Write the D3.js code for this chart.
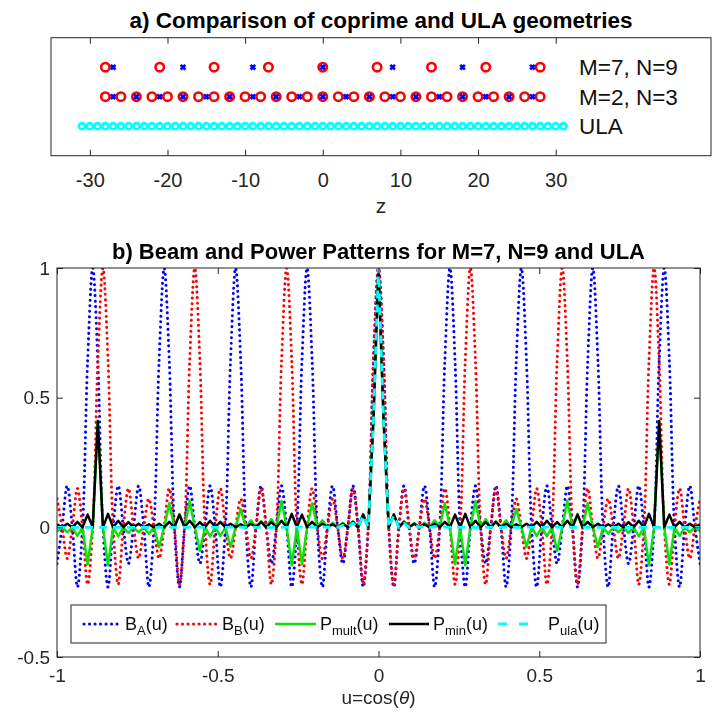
<!DOCTYPE html>
<html>
<head>
<meta charset="utf-8">
<script src="https://cdn.jsdelivr.net/npm/d3@7"></script>
<style>
  body { margin: 0; background: #fff; }
  text { font-family: "Liberation Sans", Arial, Helvetica, sans-serif; }
</style>
</head>
<body>
<svg id="fig" width="715" height="717"></svg>
<script>
// ---------- a) element positions (half-wavelength units) ----------
const rowLabels = ["M=7, N=9", "M=2, N=3", "ULA"];
const rowLevels = [3, 2, 1];
const coprime79Circles = [-28, -21, -14, -7, 0, 7, 14, 21, 28];
const coprime79Crosses = [-27, -18, -9, 0, 9, 18, 27];
const coprime23Circles = [-28, -26, -24, -22, -20, -18, -16, -14, -12, -10, -8, -6, -4, -2, 0,
  2, 4, 6, 8, 10, 12, 14, 16, 18, 20, 22, 24, 26, 28];
const coprime23Crosses = [-27, -24, -21, -18, -15, -12, -9, -6, -3, 0, 3, 6, 9, 12, 15, 18, 21, 24, 27];
const ulaElements = [-31, -30, -29, -28, -27, -26, -25, -24, -23, -22, -21, -20, -19, -18, -17, -16,
  -15, -14, -13, -12, -11, -10, -9, -8, -7, -6, -5, -4, -3, -2, -1, 0, 1, 2, 3, 4, 5, 6, 7, 8, 9, 10,
  11, 12, 13, 14, 15, 16, 17, 18, 19, 20, 21, 22, 23, 24, 25, 26, 27, 28, 29, 30, 31];
const zTicks = [-30, -20, -10, 0, 10, 20, 30];

// ---------- b) patterns, one value every 1/63 in u, from u=-1 to u=1 ----------
const uStart = -1, uStep = 1 / 63;
const beamA = [
  -0.14, 0, 0.16, 0, -0.23, 0, 0.64,
  1, 0.64, 0, -0.23, 0, 0.16, 0, -0.14, 0, 0.16, 0, -0.23, 0, 0.64,
  1, 0.64, 0, -0.23, 0, 0.16, 0, -0.14, 0, 0.16, 0, -0.23, 0, 0.64,
  1, 0.64, 0, -0.23, 0, 0.16, 0, -0.14, 0, 0.16, 0, -0.23, 0, 0.64,
  1, 0.64, 0, -0.23, 0, 0.16, 0, -0.14, 0, 0.16, 0, -0.23, 0, 0.64,
  1, 0.64, 0, -0.23, 0, 0.16, 0, -0.14, 0, 0.16, 0, -0.23, 0, 0.64,
  1, 0.64, 0, -0.23, 0, 0.16, 0, -0.14, 0, 0.16, 0, -0.23, 0, 0.64,
  1, 0.64, 0, -0.23, 0, 0.16, 0, -0.14, 0, 0.16, 0, -0.23, 0, 0.64,
  1, 0.64, 0, -0.23, 0, 0.16, 0, -0.14, 0, 0.16, 0, -0.23, 0, 0.64,
  1, 0.64, 0, -0.23, 0, 0.16, 0, -0.14
];
const beamB = [
  0.11, 0, -0.12, 0, 0.15, 0, -0.22, 0, 0.64,
  1, 0.64, 0, -0.22, 0, 0.15, 0, -0.12, 0, 0.11, 0, -0.12, 0, 0.15, 0, -0.22, 0, 0.64,
  1, 0.64, 0, -0.22, 0, 0.15, 0, -0.12, 0, 0.11, 0, -0.12, 0, 0.15, 0, -0.22, 0, 0.64,
  1, 0.64, 0, -0.22, 0, 0.15, 0, -0.12, 0, 0.11, 0, -0.12, 0, 0.15, 0, -0.22, 0, 0.64,
  1, 0.64, 0, -0.22, 0, 0.15, 0, -0.12, 0, 0.11, 0, -0.12, 0, 0.15, 0, -0.22, 0, 0.64,
  1, 0.64, 0, -0.22, 0, 0.15, 0, -0.12, 0, 0.11, 0, -0.12, 0, 0.15, 0, -0.22, 0, 0.64,
  1, 0.64, 0, -0.22, 0, 0.15, 0, -0.12, 0, 0.11, 0, -0.12, 0, 0.15, 0, -0.22, 0, 0.64,
  1, 0.64, 0, -0.22, 0, 0.15, 0, -0.12, 0, 0.11
];
const powerMult = [
  -0.016, 0, -0.019, 0, -0.033, 0, -0.143, 0, 0.41, 0, -0.147, 0, -0.035, 0, -0.021, 0,
  -0.019, 0, -0.025, 0, -0.076, 0, 0.093, 0, 0.051, 0, 0.102, 0, -0.091, 0, -0.035, 0,
  -0.033, 0, -0.076, 0, 0.071, 0, 0.027, 0, 0.023, 0, 0.032, 0, 0.102, 0, -0.147, 0,
  -0.143, 0, 0.093, 0, 0.027, 0, 0.018, 0, 0.017, 0, 0.023, 0, 0.051, 0, 0.41,
  1,
  0.41, 0, 0.051, 0, 0.023, 0, 0.017, 0, 0.018, 0, 0.027, 0, 0.093, 0, -0.143, 0,
  -0.147, 0, 0.102, 0, 0.032, 0, 0.023, 0, 0.027, 0, 0.071, 0, -0.076, 0, -0.033, 0,
  -0.035, 0, -0.091, 0, 0.102, 0, 0.051, 0, 0.093, 0, -0.076, 0, -0.025, 0, -0.019, 0,
  -0.021, 0, -0.035, 0, -0.147, 0, 0.41, 0, -0.143, 0, -0.033, 0, -0.019, 0, -0.016
];
const powerMin = [
  0.012, 0, 0.014, 0, 0.021, 0, 0.049, 0, 0.41, 0, 0.052, 0, 0.025, 0, 0.020, 0,
  0.014, 0, 0.012, 0, 0.014, 0, 0.021, 0, 0.049, 0, 0.025, 0, 0.020, 0, 0.025, 0,
  0.021, 0, 0.014, 0, 0.012, 0, 0.014, 0, 0.021, 0, 0.020, 0, 0.025, 0, 0.052, 0,
  0.049, 0, 0.021, 0, 0.014, 0, 0.012, 0, 0.014, 0, 0.021, 0, 0.049, 0, 0.41,
  1,
  0.41, 0, 0.049, 0, 0.021, 0, 0.014, 0, 0.012, 0, 0.014, 0, 0.021, 0, 0.049, 0,
  0.052, 0, 0.025, 0, 0.020, 0, 0.021, 0, 0.014, 0, 0.012, 0, 0.014, 0, 0.021, 0,
  0.025, 0, 0.020, 0, 0.025, 0, 0.049, 0, 0.021, 0, 0.014, 0, 0.012, 0, 0.014, 0,
  0.020, 0, 0.025, 0, 0.052, 0, 0.41, 0, 0.049, 0, 0.021, 0, 0.014, 0, 0.012
];
const powerUla = [
  0, 0, 0, 0, 0, 0, 0, 0, 0, 0, 0, 0, 0, 0, 0, 0, 0, 0, 0, 0, 0, 0,
  0.001, 0, 0.001, 0, 0.001, 0, 0.001, 0, 0.001, 0, 0.001, 0, 0.001, 0, 0.001, 0,
  0.001, 0, 0.001, 0, 0.001, 0, 0.001, 0, 0.001,
  0, 0.002, 0, 0.002, 0, 0.003, 0, 0.005, 0, 0.008, 0, 0.016, 0, 0.045, 0, 0.405,
  1,
  0.405, 0, 0.045, 0, 0.016, 0, 0.008, 0, 0.005, 0, 0.003, 0, 0.002, 0, 0.002, 0,
  0.001, 0, 0.001, 0, 0.001, 0, 0.001, 0, 0.001, 0, 0.001, 0, 0.001, 0, 0.001, 0,
  0.001, 0, 0.001, 0, 0.001, 0, 0.001, 0, 0.001,
  0, 0, 0, 0, 0, 0, 0, 0, 0, 0, 0, 0, 0, 0, 0, 0, 0, 0, 0, 0, 0, 0
];
const uTicks = [-1, -0.5, 0, 0.5, 1];
const pTicks = [-0.5, 0, 0.5, 1];

const axisColor = "#262626";
const svg = d3.select("#fig");
const defs = svg.append("defs");
defs.append("filter").attr("id", "soft")
  .attr("x", "-5%").attr("y", "-5%").attr("width", "110%").attr("height", "110%")
  .append("feGaussianBlur").attr("stdDeviation", 0.55);

function styleAxis(g, fontSize) {
  g.select(".domain").remove();
  g.selectAll(".tick line").attr("stroke", axisColor).attr("stroke-width", 1);
  g.selectAll(".tick text").attr("fill", axisColor).attr("font-size", fontSize);
}

// =================== a) array geometries ===================
const gA = svg.append("g");
const xA = d3.scaleLinear().domain([-35, 50]).range([51, 711]);
const yA = d3.scaleLinear().domain([0, 4]).range([155.7, 37.7]);

gA.append("g").attr("transform", `translate(0,${yA(0)})`)
  .call(d3.axisBottom(xA).tickValues(zTicks).tickSize(-6).tickPadding(17).tickFormat(d => String(d)))
  .call(g => styleAxis(g, 20));
gA.append("g").attr("transform", `translate(0,${yA(4)})`)
  .call(d3.axisTop(xA).tickValues(zTicks).tickSize(-6).tickFormat(""))
  .call(g => styleAxis(g, 20));
gA.append("rect")
  .attr("x", xA(-35)).attr("y", yA(4))
  .attr("width", xA(50) - xA(-35)).attr("height", yA(0) - yA(4))
  .attr("fill", "none").attr("stroke", axisColor).attr("stroke-width", 1);

const crossPath = "M-2.3,-2.3L2.3,2.3M-2.3,2.3L2.3,-2.3";
function circles(data, level, color, r, w) {
  gA.append("g").selectAll("circle").data(data).join("circle")
    .attr("cx", d => xA(d)).attr("cy", yA(level)).attr("r", r)
    .attr("fill", "none").attr("stroke", color).attr("stroke-width", w);
}
function crosses(data, level) {
  gA.append("g").selectAll("path").data(data).join("path")
    .attr("transform", d => `translate(${xA(d)},${yA(level)})`)
    .attr("d", crossPath).attr("stroke", "#0000ff").attr("stroke-width", 2.7);
}
circles(coprime79Circles, rowLevels[0], "#ff0000", 4.2, 2.6);
crosses(coprime79Crosses, rowLevels[0]);
circles(coprime23Circles, rowLevels[1], "#ff0000", 4.2, 2.6);
crosses(coprime23Crosses, rowLevels[1]);
circles(ulaElements, rowLevels[2], "#00ffff", 3.1, 2.6);

gA.append("g").selectAll("text").data(rowLabels).join("text")
  .attr("x", xA(33)).attr("y", (d, i) => yA(rowLevels[i]))
  .attr("dy", "0.36em").attr("font-size", 22.5).attr("fill", "#111")
  .text(d => d);

gA.append("text").attr("x", (xA(-35) + xA(50)) / 2).attr("y", 28)
  .attr("text-anchor", "middle").attr("font-size", 22.5).attr("font-weight", "bold").attr("fill", "#000")
  .text("a) Comparison of coprime and ULA geometries");
gA.append("text").attr("x", (xA(-35) + xA(50)) / 2).attr("y", 213)
  .attr("text-anchor", "middle").attr("font-size", 21).attr("fill", axisColor)
  .text("z");

// =================== b) beam and power patterns ===================
const gB = svg.append("g").attr("filter", "url(#soft)");
const xB = d3.scaleLinear().domain([-1, 1]).range([57, 700]);
const yB = d3.scaleLinear().domain([-0.5, 1]).range([657, 268]);

defs.append("clipPath").attr("id", "plotB").append("rect")
  .attr("x", xB(-1)).attr("y", yB(1)).attr("width", xB(1) - xB(-1)).attr("height", yB(-0.5) - yB(1));

const series = [
  { name: "B", sub: "A", values: beamA, color: "#0000ff", width: 3, dash: "0.1,5.4", cap: "round", curve: d3.curveCatmullRom.alpha(0.5) },
  { name: "B", sub: "B", values: beamB, color: "#ff0000", width: 3, dash: "0.1,5.4", cap: "round", curve: d3.curveCatmullRom.alpha(0.5) },
  { name: "P", sub: "mult", values: powerMult, color: "#10e010", width: 2.5, dash: null, cap: "butt", curve: d3.curveLinear },
  { name: "P", sub: "min", values: powerMin, color: "#000000", width: 2.5, dash: null, cap: "butt", curve: d3.curveLinear },
  { name: "P", sub: "ula", values: powerUla, color: "#00ffff", width: 2.8, dash: "8,6", cap: "butt", curve: d3.curveLinear }
];

const plot = gB.append("g").attr("clip-path", "url(#plotB)");
series.forEach(s => {
  const line = d3.line()
    .x((d, i) => xB(uStart + i * uStep))
    .y(d => yB(d))
    .curve(s.curve);
  plot.append("path").datum(s.values)
    .attr("d", line)
    .attr("fill", "none").attr("stroke", s.color).attr("stroke-width", s.width)
    .attr("stroke-linecap", s.cap).attr("stroke-linejoin", "round")
    .attr("stroke-dasharray", s.dash);
});

gB.append("g").attr("transform", `translate(0,${yB(-0.5)})`)
  .call(d3.axisBottom(xB).tickValues(uTicks).tickSize(-6).tickPadding(12).tickFormat(d => String(d)))
  .call(g => styleAxis(g, 19));
gB.append("g").attr("transform", `translate(0,${yB(1)})`)
  .call(d3.axisTop(xB).tickValues(uTicks).tickSize(-6).tickFormat(""))
  .call(g => styleAxis(g, 19));
gB.append("g").attr("transform", `translate(${xB(-1)},0)`)
  .call(d3.axisLeft(yB).tickValues(pTicks).tickSize(-6).tickPadding(7).tickFormat(d => String(d)))
  .call(g => styleAxis(g, 19));
gB.append("g").attr("transform", `translate(${xB(1)},0)`)
  .call(d3.axisRight(yB).tickValues(pTicks).tickSize(-6).tickFormat(""))
  .call(g => styleAxis(g, 19));
gB.append("rect")
  .attr("x", xB(-1)).attr("y", yB(1))
  .attr("width", xB(1) - xB(-1)).attr("height", yB(-0.5) - yB(1))
  .attr("fill", "none").attr("stroke", axisColor).attr("stroke-width", 1);

gB.append("text").attr("x", (xB(-1) + xB(1)) / 2).attr("y", 259)
  .attr("text-anchor", "middle").attr("font-size", 22).attr("font-weight", "bold").attr("fill", "#000")
  .text("b) Beam and Power Patterns for M=7, N=9 and ULA");

const xLabel = gB.append("text").attr("x", (xB(-1) + xB(1)) / 2).attr("y", 704)
  .attr("text-anchor", "middle").attr("font-size", 19).attr("fill", axisColor);
xLabel.append("tspan").text("u=cos(");
xLabel.append("tspan").attr("font-style", "italic").text("\u03B8");
xLabel.append("tspan").text(")");

// legend
const legend = gB.append("g");
legend.append("rect").attr("x", 71).attr("y", 605).attr("width", 535).attr("height", 38)
  .attr("fill", "#fff").attr("stroke", axisColor).attr("stroke-width", 1);
const legendY = 624;
const sampleX = [[84, 121], [177, 217], [275, 316], [389, 429], [498, 530]];
const labelX = [125, 222, 320, 433, 548];
series.forEach((s, i) => {
  legend.append("line")
    .attr("x1", sampleX[i][0]).attr("x2", sampleX[i][1]).attr("y1", legendY).attr("y2", legendY)
    .attr("stroke", s.color).attr("stroke-width", s.width)
    .attr("stroke-linecap", s.cap).attr("stroke-dasharray", s.dash === "8,6" ? "9,12" : s.dash);
  const t = legend.append("text").attr("x", labelX[i]).attr("y", legendY + 6)
    .attr("font-size", 18).attr("fill", "#111");
  t.append("tspan").text(s.name);
  t.append("tspan").attr("font-size", 13).attr("dy", 5).text(s.sub);
  t.append("tspan").attr("dy", -5).text("(u)");
});
</script>
</body>
</html>
